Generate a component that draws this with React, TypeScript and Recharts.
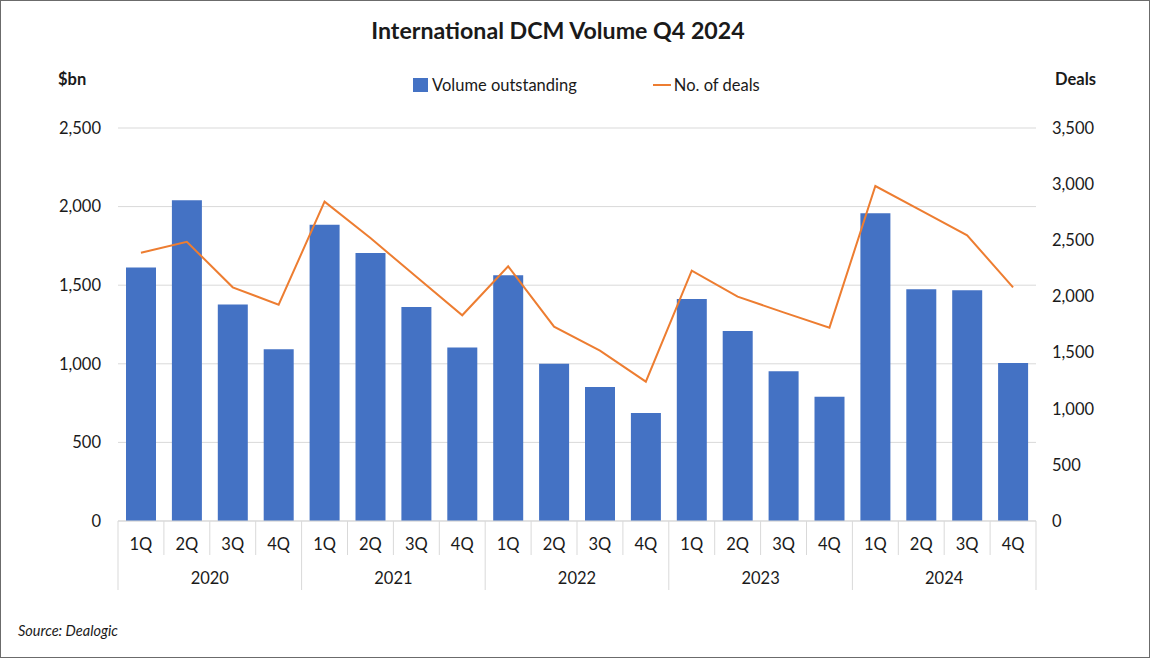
import React from "react";
import {
  ComposedChart,
  Bar,
  Line,
  XAxis,
  YAxis,
  CartesianGrid,
  Legend,
} from "recharts";

const quarters = ["1Q", "2Q", "3Q", "4Q", "1Q", "2Q", "3Q", "4Q", "1Q", "2Q", "3Q", "4Q", "1Q", "2Q", "3Q", "4Q", "1Q", "2Q", "3Q", "4Q"];
const years = ["2020", "2021", "2022", "2023", "2024"];
const volumeOutstanding = [1613, 2040, 1378, 1092, 1885, 1705, 1361, 1103, 1563, 1001, 852, 687, 1412, 1209, 952, 791, 1957, 1474, 1468, 1005];
const numberOfDeals = [2389, 2487, 2081, 1926, 2844, 2520, 2175, 1832, 2268, 1731, 1517, 1241, 2229, 1998, 1858, 1722, 2983, 2765, 2544, 2081];
const leftTicks = [0, 500, 1000, 1500, 2000, 2500];
const rightTicks = [0, 500, 1000, 1500, 2000, 2500, 3000, 3500];

const data = quarters.map((q, i) => ({
  q,
  idx: i,
  year: years[Math.floor(i / 4)],
  volume: volumeOutstanding[i],
  deals: numberOfDeals[i],
}));

const W = 1150;
const H = 658;
const MARGIN = { top: 128, right: 54, bottom: 65, left: 58 };
const Y_W = 60;
const PLOT_L = MARGIN.left + Y_W;
const PLOT_R = W - MARGIN.right - Y_W;
const BAND = (PLOT_R - PLOT_L) / quarters.length;
const FONT = "Lato, 'Noto Sans', sans-serif";
const BLUE = "#4472C4";
const ORANGE = "#ED7D31";
const GRID = "#D9D9D9";
const TEXT = "#1a1a1a";

const fmt = (v: number) => v.toLocaleString("en-US");

const XTick = (props: any) => {
  const { x, y, payload, index } = props;
  const i = typeof index === "number" ? index : payload.index;
  const left = x - BAND / 2;
  const isGroupStart = i % 4 === 0;
  const last = i === quarters.length - 1;
  return (
    <g>
      <line x1={left} x2={left} y1={y} y2={isGroupStart ? y + 69 : y + 34} stroke={GRID} strokeWidth={1} />
      {last && <line x1={x + BAND / 2} x2={x + BAND / 2} y1={y} y2={y + 69} stroke={GRID} strokeWidth={1} />}
      <text x={x} y={y + 23} textAnchor="middle" dominantBaseline="central" fontSize={16.5} fontFamily={FONT} fill={TEXT}>
        {payload.value}
      </text>
      {isGroupStart && (
        <text x={x + 1.5 * BAND} y={y + 57} textAnchor="middle" dominantBaseline="central" fontSize={16.5} fontFamily={FONT} fill={TEXT}>
          {years[Math.floor(i / 4)]}
        </text>
      )}
    </g>
  );
};

const LegendContent = () => (
  <div style={{ display: "flex", alignItems: "center", fontFamily: FONT, fontSize: 16.5, color: TEXT, whiteSpace: "nowrap" }}>
    <div style={{ display: "flex", alignItems: "center", marginRight: 76 }}>
      <span style={{ width: 15, height: 14, background: BLUE, display: "inline-block", marginRight: 4 }} />
      <span>Volume outstanding</span>
    </div>
    <div style={{ display: "flex", alignItems: "center" }}>
      <span style={{ width: 18, height: 2, background: ORANGE, display: "inline-block", marginRight: 3 }} />
      <span>No. of deals</span>
    </div>
  </div>
);

export default function App() {
  return (
    <div style={{ position: "absolute", left: 0, top: 0, width: W, height: H, background: "#fff" }}>
      <div style={{ position: "absolute", left: 0, top: 16, width: W, textAlign: "center", fontFamily: FONT, fontWeight: 700, fontSize: 23.2, color: TEXT, paddingRight: 34, boxSizing: "border-box" }}>
        International DCM Volume Q4 2024
      </div>
      <div style={{ position: "absolute", left: 58, top: 69, fontFamily: FONT, fontWeight: 700, fontSize: 16.5, color: TEXT }}>$bn</div>
      <div style={{ position: "absolute", left: 1055, top: 69, fontFamily: FONT, fontWeight: 700, fontSize: 16.5, color: TEXT }}>Deals</div>
      <div style={{ position: "absolute", left: 18, top: 622, fontFamily: FONT, fontStyle: "italic", fontSize: 14.5, color: TEXT }}>Source: Dealogic</div>
      <ComposedChart width={W} height={H} data={data} margin={MARGIN}>
        <CartesianGrid vertical={false} stroke={GRID} yAxisId="left" />
        <XAxis
          dataKey="q"
          height={72}
          interval={0}
          tickLine={false}
          tickSize={0}
          tickMargin={0}
          axisLine={{ stroke: GRID }}
          tick={<XTick />}
        />
        <YAxis
          yAxisId="left"
          width={Y_W}
          domain={[0, 2500]}
          ticks={leftTicks}
          tickFormatter={fmt}
          axisLine={false}
          tickLine={false}
          tickSize={0}
          tickMargin={17}
          tick={{ fontSize: 16.5, fontFamily: FONT, fill: TEXT }}
        />
        <YAxis
          yAxisId="right"
          orientation="right"
          width={Y_W}
          domain={[0, 3500]}
          ticks={rightTicks}
          tickFormatter={fmt}
          axisLine={false}
          tickLine={false}
          tickSize={0}
          tickMargin={16}
          tick={{ fontSize: 16.5, fontFamily: FONT, fill: TEXT, textAnchor: "start" }}
        />
        <Legend
          verticalAlign="middle"
          align="center"
          layout="horizontal"
          content={<LegendContent />}
          wrapperStyle={{ position: "absolute", left: 413, top: 75, width: "auto", height: "auto" }}
        />
        <Bar yAxisId="left" dataKey="volume" name="Volume outstanding" fill={BLUE} barSize={30} isAnimationActive={false} />
        <Line yAxisId="right" dataKey="deals" name="No. of deals" stroke={ORANGE} strokeWidth={2} dot={false} type="linear" isAnimationActive={false} />
      </ComposedChart>
      <div style={{ position: "absolute", left: 0, top: 0, width: W, height: H, boxSizing: "border-box", border: "1px solid #6b6b6b", pointerEvents: "none" }} />
    </div>
  );
}
